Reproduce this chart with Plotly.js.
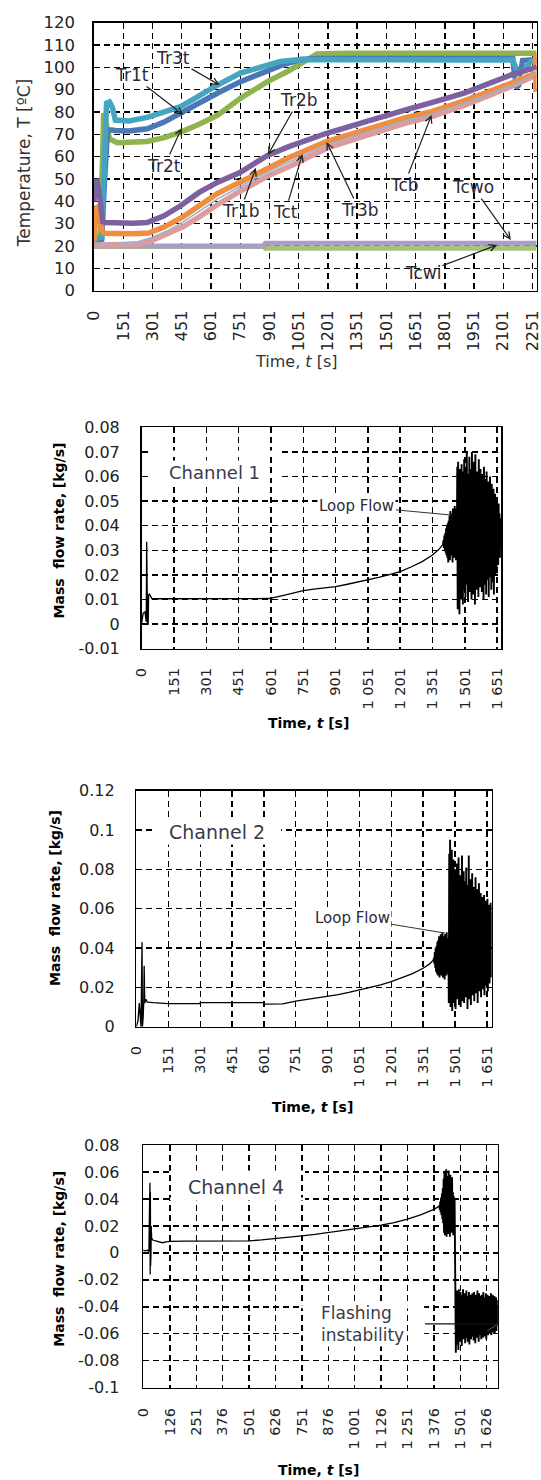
<!DOCTYPE html>
<html><head><meta charset="utf-8">
<script src="https://cdn.plot.ly/plotly-3.0.1.min.js"></script>
<style>html,body{margin:0;padding:0;background:#fff}#chart{width:541px;height:1480px}</style>
</head><body><div id="chart"></div>
<script>
// ---------------- DATA ----------------
// Panel 1: temperatures [ºC] vs time [s]
const tr3tT = [0, 40, 55, 65, 80, 95, 110, 180, 274, 360, 445, 540, 633, 752, 889, 957, 1060, 1300, 1600, 1900, 2150, 2175, 2210, 2240, 2272];
const tr3tV = [23, 24, 60, 84, 84.5, 82, 76.4, 76, 77.6, 79.8, 82.4, 87.2, 92, 97.4, 100.8, 102.6, 103.5, 103.3, 103.3, 103.3, 103.3, 97.5, 99, 102.5, 103];
const tr1tT = [0, 40, 55, 70, 90, 110, 180, 274, 360, 445, 540, 633, 752, 889, 980, 1060, 1145, 1500, 1900, 2150, 2165, 2180, 2200, 2272];
const tr1tV = [22, 23, 50, 72, 72, 71.7, 71.5, 72.5, 75.5, 79.7, 84, 88.4, 93.6, 98.5, 101.5, 103.5, 104, 104, 104, 104, 91, 92, 103, 103.5];
const tr2tT = [0, 30, 45, 50, 60, 80, 120, 200, 274, 360, 445, 540, 633, 752, 889, 1000, 1127, 1145, 1300, 1600, 1900, 2272];
const tr2tV = [22, 23, 60, 79.5, 76, 68, 66.3, 66.3, 66.8, 68.5, 71, 74.5, 78.5, 86.2, 93.5, 98.5, 104.8, 106, 106.3, 106.3, 106.3, 106.3];
const tr2bT = [0, 15, 30, 45, 60, 120, 200, 274, 360, 445, 540, 633, 752, 889, 1000, 1194, 1400, 1600, 1733, 1900, 2141, 2272];
const tr2bV = [40, 50, 42, 31, 30.5, 30.2, 30.2, 30.5, 33.5, 38, 44, 48.5, 53, 60.5, 64.5, 70.5, 76, 81, 84.2, 88.5, 96.6, 100];
const tr1bT = [0, 10, 25, 40, 55, 120, 200, 283, 360, 459, 540, 633, 760, 902, 1000, 1194, 1400, 1600, 1733, 1900, 2141, 2264, 2267, 2269, 2272];
const tr1bV = [22, 38, 36, 27, 25.7, 25.5, 25.5, 25.8, 28.5, 33.2, 38, 43.5, 49, 55.5, 59.5, 66.8, 72.5, 77.5, 80.2, 85, 92.9, 97.5, 106, 89, 98];
const tr3bT = [0, 35, 120, 230, 300, 380, 459, 540, 633, 760, 902, 1000, 1194, 1400, 1600, 1733, 1900, 2141, 2272];
const tr3bV = [20.5, 20.5, 20.5, 20.8, 22.5, 25.5, 28.7, 33, 38.5, 45, 51.8, 55.5, 63.8, 69.5, 75, 78, 83, 91.4, 96.6];
const tctT = [0, 35, 120, 230, 300, 380, 459, 540, 633, 760, 902, 1000, 1194, 1400, 1600, 1733, 1900, 2141, 2272];
const tctV = [21, 21, 21.3, 22, 24, 27, 30.8, 35.5, 41, 47, 53.7, 57.5, 65.3, 71, 76.2, 79, 84, 92, 97.3];
const tcbT = [300, 459, 633, 760, 902, 1000, 1194, 1400, 1600, 1733, 1900, 2141, 2272];
const tcbV = [28, 35.8, 46, 51.5, 58, 62, 68.7, 74.3, 79.3, 82.2, 86.8, 94.8, 98.8];
const tcwT = [0, 870, 880, 2272];
const tcwoV = [20, 20, 21.2, 21.2];
const tcwiV = [19.8, 19.8, 19, 19];

// Panel 2: Channel 1 mass flow rate [kg/s]
const ch1T = [0, 4, 8, 16, 22, 24, 25, 28, 31, 33, 37, 42, 48, 60, 100, 200, 300, 400, 500, 592, 650, 700, 751, 800, 850, 901, 951, 1001, 1051, 1101, 1151, 1201, 1251, 1301, 1351, 1380, 1400];
const ch1V = [0, 0.003, 0.0045, 0.005, 0.001, 0.0335, 0.001, 0, 0, 0.0118, 0.0122, 0.0112, 0.0104, 0.0103, 0.0103, 0.0103, 0.0103, 0.0103, 0.0103, 0.0104, 0.0115, 0.0125, 0.0136, 0.0142, 0.0147, 0.0152, 0.0161, 0.0170, 0.0179, 0.019, 0.0201, 0.0213, 0.0232, 0.0253, 0.0281, 0.0303, 0.0325];
const ch1OscStart = 1402, ch1OscStep = 2;
const ch1Osc = [
 0.034, 0.031, 0.036, 0.030, 0.037, 0.029, 0.039, 0.028, 0.040, 0.027, 0.041, 0.025, 0.042, 0.030, 0.044,
 0.026, 0.046, 0.028, 0.045, 0.030, 0.043, 0.025, 0.047, 0.029, 0.044, 0.027, 0.048, 0.031, 0.045, 0.026, 0.047, 0.030,
 0.064, 0.006, 0.066, 0.012, 0.060, 0.004, 0.063, 0.015, 0.058, 0.010, 0.065, 0.018, 0.055, 0.008, 0.062, 0.014, 0.067, 0.020,
 0.059, 0.011, 0.064, 0.016, 0.070, 0.022, 0.052, 0.009, 0.061, 0.018, 0.068, 0.013, 0.057, 0.021, 0.063, 0.010, 0.070, 0.024, 0.055, 0.012,
 0.066, 0.019, 0.060, 0.008, 0.069, 0.023, 0.054, 0.014, 0.062, 0.017, 0.058, 0.011, 0.067, 0.025, 0.052, 0.015, 0.063, 0.020, 0.057, 0.013,
 0.061, 0.021, 0.055, 0.010, 0.064, 0.024, 0.050, 0.016, 0.059, 0.012, 0.062, 0.027, 0.048, 0.018, 0.058, 0.011, 0.054, 0.022, 0.060, 0.019,
 0.052, 0.014, 0.057, 0.025, 0.049, 0.017, 0.055, 0.012, 0.050, 0.026, 0.053, 0.020, 0.047, 0.023, 0.051, 0.028, 0.046, 0.024, 0.049, 0.030, 0.045, 0.027, 0.043, 0.032];

// Panel 3: Channel 2 mass flow rate [kg/s]
const ch2T = [0, 8, 14, 18, 22, 27, 29, 32, 35, 37, 40, 45, 52, 60, 80, 150, 300, 301, 450, 600, 601, 690, 751, 801, 851, 901, 951, 1001, 1051, 1101, 1151, 1201, 1251, 1301, 1351, 1380, 1400];
const ch2V = [0, 0.003, 0.012, 0.006, 0.0, 0.043, 0.0, 0.004, 0.012, 0.031, 0.012, 0.014, 0.0125, 0.0125, 0.0122, 0.0117, 0.0117, 0.0122, 0.0122, 0.0122, 0.0115, 0.0116, 0.013, 0.0138, 0.0145, 0.0153, 0.0163, 0.0174, 0.0187, 0.0199, 0.0213, 0.0229, 0.0248, 0.027, 0.0297, 0.0318, 0.0339];
const ch2OscStart = 1402, ch2OscStep = 2;
const ch2Osc = [
 0.035, 0.032, 0.038, 0.030, 0.040, 0.028, 0.041, 0.027, 0.043, 0.026, 0.044, 0.029, 0.046, 0.025, 0.045,
 0.027, 0.047, 0.026, 0.045, 0.030, 0.048, 0.025, 0.044, 0.028, 0.046, 0.024, 0.047, 0.029, 0.043, 0.026, 0.048, 0.031, 0.045, 0.027, 0.040,
 0.012, 0.088, 0.015, 0.095, 0.010, 0.082, 0.020, 0.090, 0.008, 0.078, 0.018, 0.085, 0.012, 0.072, 0.022, 0.080, 0.009, 0.075, 0.016, 0.083,
 0.014, 0.070, 0.024, 0.086, 0.011, 0.068, 0.019, 0.077, 0.010, 0.071, 0.026, 0.087, 0.013, 0.066, 0.021, 0.079, 0.012, 0.069, 0.018, 0.074,
 0.015, 0.081, 0.023, 0.064, 0.009, 0.072, 0.020, 0.087, 0.014, 0.066, 0.025, 0.075, 0.011, 0.068, 0.019, 0.078, 0.016, 0.063, 0.024, 0.071,
 0.013, 0.067, 0.021, 0.076, 0.017, 0.062, 0.026, 0.070, 0.012, 0.064, 0.022, 0.073, 0.018, 0.060, 0.027, 0.068, 0.015, 0.063, 0.023, 0.066,
 0.019, 0.061, 0.028, 0.067, 0.016, 0.058, 0.024, 0.064, 0.021, 0.060, 0.029, 0.065, 0.018, 0.057, 0.026, 0.062, 0.022, 0.059, 0.030, 0.063, 0.025, 0.058];

// Panel 4: Channel 4 mass flow rate [kg/s]
const ch4T = [0, 10, 20, 27, 30, 31, 32, 33, 34, 35, 36, 37, 38, 40, 45, 55, 70, 90, 110, 126, 200, 300, 400, 501, 560, 626, 690, 751, 813, 876, 938, 1001, 1063, 1126, 1188, 1251, 1313, 1376, 1400];
const ch4V = [0.002, 0.0015, 0.002, 0.001, 0.035, -0.015, 0.052, -0.016, 0.045, -0.01, 0.033, 0.0, 0.02, 0.011, 0.0095, 0.009, 0.0085, 0.0075, 0.0082, 0.0085, 0.0087, 0.0087, 0.0088, 0.0089, 0.0096, 0.0105, 0.0115, 0.0126, 0.0137, 0.015, 0.0162, 0.0175, 0.019, 0.0205, 0.0225, 0.025, 0.0282, 0.0323, 0.0345];
const ch4OscStart = 1402, ch4OscStep = 2;
const ch4Osc = [
 0.035, 0.032, 0.038, 0.030, 0.041, 0.028, 0.044, 0.025, 0.048, 0.022,
 0.055, 0.015, 0.060, 0.013, 0.052, 0.018, 0.062, 0.012, 0.057, 0.020, 0.050, 0.014, 0.061, 0.017, 0.054, 0.012, 0.058, 0.021, 0.049, 0.015, 0.056, 0.019, 0.045, 0.013, 0.042, 0.020, 0.040, 0.015,
 -0.040, -0.074,
 -0.030, -0.068, -0.028, -0.060, -0.035, -0.072, -0.027, -0.063, -0.033, -0.066, -0.029, -0.058, -0.036, -0.069, -0.031, -0.061, -0.027, -0.064, -0.034, -0.059,
 -0.030, -0.067, -0.035, -0.060, -0.028, -0.063, -0.037, -0.066, -0.032, -0.058, -0.029, -0.068, -0.036, -0.061, -0.031, -0.064, -0.034, -0.057, -0.030, -0.062,
 -0.036, -0.065, -0.029, -0.059, -0.033, -0.067, -0.031, -0.060, -0.035, -0.063, -0.028, -0.058, -0.034, -0.066, -0.030, -0.061, -0.037, -0.059, -0.032, -0.064,
 -0.031, -0.060, -0.035, -0.063, -0.029, -0.057, -0.036, -0.062, -0.033, -0.059, -0.030, -0.064, -0.034, -0.058, -0.031, -0.061, -0.036, -0.057, -0.032, -0.060,
 -0.034, -0.058, -0.030, -0.061, -0.035, -0.056, -0.031, -0.059, -0.036, -0.055, -0.032, -0.060, -0.037, -0.057, -0.033, -0.058, -0.035, -0.054, -0.040];

// Tick labels
const t1Ticks = [0, 151, 301, 451, 601, 751, 901, 1051, 1201, 1351, 1501, 1651, 1801, 1951, 2101, 2251];
const t1Labels = ['0','151','301','451','601','751','901','1051','1201','1351','1501','1651','1801','1951','2101','2251'];
const tempTicks = [0, 10, 20, 30, 40, 50, 60, 70, 80, 90, 100, 110, 120];
const tempLabels = ['0','10','20','30','40','50','60','70','80','90','100','110','120'];
const tFlowTicks = [0, 151, 301, 451, 601, 751, 901, 1051, 1201, 1351, 1501, 1651];
const tFlowLabels = ['0','151','301','451','601','751','901','1 051','1 201','1 351','1 501','1 651'];
const t4Ticks = [0, 126, 251, 376, 501, 626, 751, 876, 1001, 1126, 1251, 1376, 1501, 1626];
const t4Labels = ['0','126','251','376','501','626','751','876','1 001','1 126','1 251','1 376','1 501','1 626'];
const m1Ticks = [-0.01, 0, 0.01, 0.02, 0.03, 0.04, 0.05, 0.06, 0.07, 0.08];
const m1Labels = ['-0.01','0','0.01','0.02','0.03','0.04','0.05','0.06','0.07','0.08'];
const m2Ticks = [0, 0.02, 0.04, 0.06, 0.08, 0.1, 0.12];
const m2Labels = ['0','0.02','0.04','0.06','0.08','0.1','0.12'];
const m4Ticks = [-0.1, -0.08, -0.06, -0.04, -0.02, 0, 0.02, 0.04, 0.06, 0.08];
const m4Labels = ['-0.1','-0.08','-0.06','-0.04','-0.02','0','0.02','0.04','0.06','0.08'];

// ---------------- LAYOUT ----------------
const W = 541, H = 1480;
const FONT = 'DejaVu Sans, Liberation Sans, sans-serif';
function dom(l, t, r, b) { return {x: [l / W, r / W], y: [1 - b / H, 1 - t / H]}; }
const D1 = dom(93.9, 22.7, 536.6, 290.7);
const D2 = dom(141.5, 427.3, 501, 648.7);
const D3 = dom(136.3, 790.7, 491.7, 1026.7);
const D4 = dom(143.2, 1145, 497.9, 1387.7);

function baseAxis(o) {
  return Object.assign({
    showline: true, mirror: true, linecolor: '#000', linewidth: 1.5,
    showgrid: true, gridcolor: '#000', gridwidth: 1.4, griddash: '6px,4px',
    zeroline: false, ticks: '', tickmode: 'array', fixedrange: true, ticklabeloverflow: 'allow'
  }, o);
}
function xAx(d, anchor, range, vals, text, size, standoff) {
  return baseAxis({domain: d.x, anchor: anchor, range: range, tickvals: vals, ticktext: text,
    tickangle: -90, ticklabelstandoff: standoff, tickfont: {family: FONT, size: size, color: '#222'}});
}
function yAx(d, anchor, range, vals, text, size, standoff) {
  return baseAxis({domain: d.y, anchor: anchor, range: range, tickvals: vals, ticktext: text,
    ticklabelstandoff: standoff, tickfont: {family: FONT, size: size, color: '#222'}});
}

function oscTimes(start, step, arr) { return arr.map((_, i) => start + i * step); }

function thick(x, y, color, w, extra) {
  return Object.assign({type: 'scatter', mode: 'lines', x: x, y: y, xaxis: 'x', yaxis: 'y',
    line: {color: color, width: w}, hoverinfo: 'skip'}, extra || {});
}
function flowTraces(tS, vS, start, step, osc, xa, ya) {
  const last = tS.length - 1;
  return [
    {type: 'scatter', mode: 'lines', x: tS, y: vS, xaxis: xa, yaxis: ya,
      line: {color: '#000', width: 1.3}, hoverinfo: 'skip'},
    {type: 'scatter', mode: 'lines', x: [tS[last]].concat(oscTimes(start, step, osc)), y: [vS[last]].concat(osc),
      xaxis: xa, yaxis: ya, line: {color: '#000', width: 1.9}, hoverinfo: 'skip'}
  ];
}

const data = [
  thick(tcwT, tcwiV, '#a5c37a', 5),
  thick(tcwT, tcwoV, '#ab9dc8', 5),
  thick(tr2tT, tr2tV, '#8fb34f', 5.5),
  thick(tr1tT, tr1tV, '#4a78b5', 5.5),
  thick(tr3tT, tr3tV, '#45a5c0', 5.5),
  thick(tr3bT, tr3bV, '#dc9c9c', 5.5),
  thick(tr1bT, tr1bV, '#f08d3e', 5.5),
  thick(tr2bT, tr2bV, '#7d60a0', 5.5),
  thick(tctT, tctV, '#8fb4de', 1.5),
  thick(tcbT, tcbV, '#f4f0f0', 1, {line: {color: '#f4f0f0', width: 1, dash: 'dot'}})
].concat(
  flowTraces(ch1T, ch1V, ch1OscStart, ch1OscStep, ch1Osc, 'x2', 'y2'),
  flowTraces(ch2T, ch2V, ch2OscStart, ch2OscStep, ch2Osc, 'x3', 'y3'),
  flowTraces(ch4T, ch4V, ch4OscStart, ch4OscStep, ch4Osc, 'x4', 'y4')
);

const lblFont = {family: FONT, size: 17, color: '#2e2a36'};
function arrowLbl(text, x, y, ax, ay) {
  return {xref: 'x', yref: 'y', axref: 'x', ayref: 'y', x: x, y: y, ax: ax, ay: ay, text: text,
    showarrow: true, arrowhead: 5, arrowsize: 1.1, arrowwidth: 1.2, arrowcolor: '#222', standoff: 0,
    font: lblFont};
}
function paperText(text, px, py, size, opts) {
  return Object.assign({xref: 'paper', yref: 'paper', x: px / W, y: 1 - py / H, text: text, showarrow: false,
    xanchor: 'center', yanchor: 'middle', font: {family: FONT, size: size, color: '#000'}}, opts || {});
}

const annotations = [
  // panel 1 labels
  arrowLbl('Tr3t', 645, 92.1, 406, 104.1),
  arrowLbl('Tr1t', 459.5, 78.7, 194, 96.6),
  arrowLbl('Tr2t', 451, 72.9, 362, 55.8),
  arrowLbl('Tr2b', 893, 60.8, 1052, 85.4),
  arrowLbl('Tr1b', 831, 55, 751, 35.7),
  arrowLbl('Tct', 1070, 61.2, 981.5, 35.2),
  arrowLbl('Tr3b', 1194, 66.6, 1362, 36.1),
  arrowLbl('Tcb', 1733, 78.7, 1592, 47.3),
  arrowLbl('Tcwo', 2140, 22.7, 1946, 46.4),
  arrowLbl('Tcwi', 2070, 20.5, 1689, 7.9),
  // axis titles
  paperText('Temperature, T [ºC]', 24.2, 163, 17, {textangle: -90, font: {family: FONT, size: 17, color: '#333'}}),
  paperText('Time, <i>t</i> [s]', 296.8, 361.7, 16, {font: {family: FONT, size: 16, color: '#333'}}),
  paperText('<b>Mass  flow rate, [kg/s]</b>', 58.7, 530.8, 14, {textangle: -90}),
  paperText('<b>Time, <i>t</i> [s]</b>', 308.8, 723, 14),
  paperText('<b>Mass  flow rate, [kg/s]</b>', 55, 898, 14, {textangle: -90}),
  paperText('<b>Time, <i>t</i> [s]</b>', 312, 1106.7, 14),
  paperText('<b>Mass  flow rate, [kg/s]</b>', 58.7, 1259, 14, {textangle: -90}),
  paperText('<b>Time, <i>t</i> [s]</b>', 318, 1470, 14),
  // in-plot texts
  {xref: 'x2', yref: 'y2', x: 341, y: 0.0618, text: 'Channel 1', showarrow: false, bgcolor: '#fff',
    font: {family: FONT, size: 18, color: '#3a3a4a'}},
  {xref: 'x2', yref: 'y2', axref: 'x2', ayref: 'y2', x: 1442, y: 0.0443, ax: 1000, ay: 0.0479, text: 'Loop Flow',
    showarrow: true, arrowhead: 0, arrowwidth: 1, arrowcolor: '#333', bgcolor: '#fff', standoff: 0,
    font: {family: FONT, size: 15, color: '#2e2a36'}},
  {xref: 'x3', yref: 'y3', x: 380, y: 0.0991, text: 'Channel 2', showarrow: false, bgcolor: '#fff',
    font: {family: FONT, size: 19, color: '#3a3a4a'}},
  {xref: 'x3', yref: 'y3', axref: 'x3', ayref: 'y3', x: 1454, y: 0.0476, ax: 1016, ay: 0.0554, text: 'Loop Flow',
    showarrow: true, arrowhead: 0, arrowwidth: 1, arrowcolor: '#333', bgcolor: '#fff', standoff: 0,
    font: {family: FONT, size: 15, color: '#2e2a36'}},
  {xref: 'x4', yref: 'y4', x: 440, y: 0.0491, text: 'Channel 4', showarrow: false, bgcolor: '#fff',
    font: {family: FONT, size: 19, color: '#3a3a4a'}},
  {xref: 'x4', yref: 'y4', x: 833, y: -0.0531, xanchor: 'left', align: 'left', text: 'Flashing<br>instability',
    showarrow: false, bgcolor: '#fff', font: {family: FONT, size: 17, color: '#3a3a4a'}}
];

function wline(xr, yr, x0, x1, y) {
  return {type: 'line', xref: xr, yref: yr, x0: x0, x1: x1, y0: y, y1: y, layer: 'between',
    line: {color: '#fff', width: 3}};
}
const shapes = [
  wline('x2', 'y2', 30, 641, 0.07), wline('x2', 'y2', 30, 641, 0.06),
  wline('x3', 'y3', 74, 682, 0.1), wline('x3', 'y3', 739, 1473, 0.06),
  wline('x4', 'y4', 127, 766, 0.06), wline('x4', 'y4', 127, 766, 0.04),
  wline('x4', 'y4', 742, 1330, -0.04), wline('x4', 'y4', 742, 1330, -0.06),
  {type: 'line', xref: 'x4', yref: 'y4', x0: 1334, x1: 1690, y0: -0.0527, y1: -0.0527, layer: 'above',
    line: {color: '#111', width: 1.3}},
  {type: 'line', xref: 'x4', yref: 'y4', x0: 1629, x1: 1681, y0: -0.0577, y1: -0.0527, layer: 'above',
    line: {color: '#555', width: 1}}
];

const layout = {
  width: W, height: H, margin: {l: 0, r: 0, t: 0, b: 0},
  paper_bgcolor: '#fff', plot_bgcolor: '#fff', showlegend: false,
  font: {family: FONT, color: '#333'},
  xaxis: xAx(D1, 'y', [0, 2272], t1Ticks, t1Labels, 16, 12),
  yaxis: yAx(D1, 'x', [0, 120], tempTicks, tempLabels, 16.5, 14),
  xaxis2: xAx(D2, 'y2', [0, 1669], tFlowTicks, tFlowLabels, 14.5, 12),
  yaxis2: yAx(D2, 'x2', [-0.01, 0.08], m1Ticks, m1Labels, 16, 17),
  xaxis3: xAx(D3, 'y3', [0, 1674], tFlowTicks, tFlowLabels, 14.5, 12),
  yaxis3: yAx(D3, 'x3', [0, 0.12], m2Ticks, m2Labels, 16, 17),
  xaxis4: xAx(D4, 'y4', [0, 1679], t4Ticks, t4Labels, 14.5, 13),
  yaxis4: yAx(D4, 'x4', [-0.1, 0.08], m4Ticks, m4Labels, 16, 19),
  annotations: annotations,
  shapes: shapes
};

Plotly.newPlot('chart', data, layout, {staticPlot: true, displayModeBar: false});
</script></body></html>
